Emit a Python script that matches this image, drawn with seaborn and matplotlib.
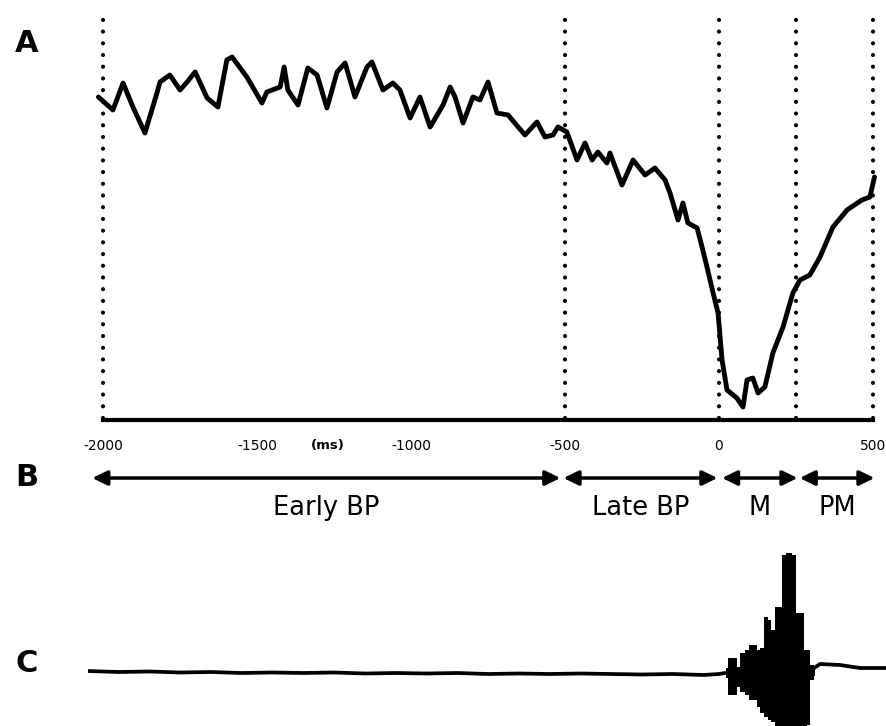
import numpy as np
import pandas as pd
import matplotlib
matplotlib.use("Agg")
import matplotlib.pyplot as plt
import seaborn as sns

# ---------------- data ----------------
# Panel A: averaged EEG (Bereitschaftspotential), time in ms, amplitude (arbitrary units)
erp_t = [-2015, -1968, -1935, -1903, -1864, -1825, -1815, -1783, -1750, -1727,
         -1701, -1662, -1627, -1598, -1581, -1533, -1484, -1468, -1425, -1412,
         -1400, -1367, -1335, -1305, -1273, -1240, -1214, -1182, -1143, -1127,
         -1091, -1059, -1036, -1003, -971, -938, -896, -873, -857, -831,
         -799, -776, -750, -721, -685, -630, -591, -565, -539, -523,
         -494, -461, -435, -412, -393, -364, -354, -315, -279, -240,
         -208, -175, -159, -133, -117, -101, -71, -55, -39, -19,
         -3, 10, 26, 58, 78, 91, 110, 127, 149, 175,
         208, 240, 263, 295, 328, 370, 416, 464, 490, 505]
erp_amp = [0.15, -0.5, 0.85, -0.35, -1.65, 0.35, 0.9, 1.25, 0.5, 0.9,
           1.4, 0.1, -0.35, 2.0, 2.15, 1.15, -0.15, 0.4, 0.65, 1.65,
           0.5, -0.25, 1.6, 1.25, -0.4, 1.4, 1.85, 0.15, 1.65, 1.9,
           0.5, 0.85, 0.5, -0.9, 0.15, -1.35, -0.25, 0.65, 0.15, -1.15,
           0.15, 0.0, 0.9, -0.65, -0.75, -1.75, -1.1, -1.85, -1.75, -1.35,
           -1.6, -3.0, -2.15, -3.0, -2.6, -3.15, -2.65, -4.25, -3.0, -3.75,
           -3.4, -4.0, -4.65, -6.0, -5.15, -6.15, -6.4, -7.35, -8.35, -9.65,
           -10.65, -13.0, -14.5, -14.9, -15.35, -14.0, -13.9, -14.65, -14.35, -12.65,
           -11.35, -9.65, -9.0, -8.75, -7.85, -6.35, -5.5, -5.0, -4.85, -3.85]

# phase boundaries (dotted lines) and x ticks
phase_lines = [-2000, -500, 0, 250, 500]
tick_pos = [-2000, -1500, -1000, -500, 0, 500]
tick_lab = ["-2000", "-1500", "-1000", "-500", "0", "500"]

# Panel B: phases
phase_names = ["Early BP", "Late BP", "M", "PM"]
phase_start = [-2035, -505, 10, 262]
phase_end = [-515, -5, 255, 505]

# Panel C: EMG baseline trace
emg_t = [-2050, -1950, -1850, -1750, -1650, -1550, -1450, -1350, -1250, -1150,
         -1050, -950, -850, -750, -650, -550, -450, -350, -250, -150,
         -50, 0, 20, 100, 200, 300, 328, 393, 458, 542]
emg_v = [0.02, 0.01, 0.015, 0.005, 0.01, 0.0, 0.005, 0.0, 0.005, -0.005,
         0.0, -0.005, 0.0, -0.01, -0.005, -0.01, -0.005, -0.01, -0.015, -0.01,
         -0.02, -0.01, 0.0, 0.0, 0.0, 0.03, 0.09, 0.08, 0.05, 0.05]
# EMG burst envelope
burst_t = [23, 36, 52, 62, 75, 91, 104, 117, 127, 140, 153, 166,
           175, 188, 201, 211, 227, 244, 257, 270, 282, 292, 302, 312]
burst_hi = [0.05, 0.15, 0.15, 0.06, 0.20, 0.23, 0.28, 0.28, 0.23, 0.25, 0.56, 0.53,
            0.43, 0.66, 0.66, 1.18, 1.20, 1.18, 0.60, 0.60, 0.23, 0.23, 0.08, 0.05]
burst_lo = [-0.05, -0.22, -0.22, -0.14, -0.19, -0.22, -0.27, -0.27, -0.34, -0.40, -0.44, -0.47,
            -0.49, -0.57, -0.57, -0.57, -0.57, -0.57, -0.57, -0.57, -0.57, -0.52, -0.07, -0.03]

# ---------------- figure ----------------
sns.set_theme(style="white")
plt.rcParams["font.family"] = ["DejaVu Sans"]
plt.rcParams["text.color"] = "black"
plt.rcParams["xtick.color"] = "black"

W, H = 886, 726
fig = plt.figure(figsize=(W / 100, H / 100), dpi=100)
fig.patch.set_facecolor("white")


def px_axes(x0, y0, x1, y1):
    return fig.add_axes([x0 / W, 1 - y1 / H, (x1 - x0) / W, (y1 - y0) / H])


XL, XR = 87.65, 885.9
XLIM = (-2050, 542)

# ---- Panel A ----
ax_a = px_axes(XL, 10, XR, 420)
erp_df = pd.DataFrame({"t": erp_t, "amp": erp_amp})
sns.lineplot(data=erp_df, x="t", y="amp", ax=ax_a, color="black", lw=3.5,
             estimator=None, sort=False)
for xv in phase_lines:
    ax_a.plot([xv, xv], [-15.9, 4.25], color="black", lw=3,
              linestyle=(0, (0.01, 2.8)), dash_capstyle="round", zorder=1)
ax_a.set_xlim(*XLIM)
ax_a.set_ylim(-16, 4.5)
sns.despine(ax=ax_a, left=True)
ax_a.spines["bottom"].set_bounds(-2000, 500)
ax_a.spines["bottom"].set_linewidth(3)
ax_a.spines["bottom"].set_color("black")
ax_a.set_xticks(tick_pos)
ax_a.set_xticklabels(tick_lab)
ax_a.set_yticks([])
ax_a.tick_params(axis="x", direction="out", length=3.5, width=2.5,
                 color="black", labelsize=10, pad=10, labelcolor="black")
ax_a.set_xlabel("")
ax_a.set_ylabel("")
ax_a.patch.set_alpha(0)
ax_a.text(-1270, -17.3, "(ms)", ha="center", va="center", fontsize=9.5,
          fontweight="bold", color="black", clip_on=False)

# ---- Panel B ----
ax_b = px_axes(XL, 455, XR, 530)
ax_b.set_xlim(*XLIM)
ax_b.set_ylim(0, 1)
ax_b.axis("off")
for s, e, lab in zip(phase_start, phase_end, phase_names):
    ax_b.annotate("", xy=(e, 0.693), xytext=(s, 0.693),
                  arrowprops=dict(arrowstyle="<|-|>,head_length=0.45,head_width=0.22",
                                  mutation_scale=20, lw=2.5, color="black",
                                  shrinkA=0, shrinkB=0))
    ax_b.text((s + e) / 2, 0.2, lab, ha="center", va="baseline", fontsize=18.5,
              color="black")

# ---- Panel C ----
ax_c = px_axes(XL, 540, XR, 726)
ax_c.set_xlim(*XLIM)
ax_c.set_ylim(-0.53, 1.33)
ax_c.axis("off")
sns.lineplot(x=emg_t, y=emg_v, ax=ax_c, color="black", lw=2.7,
             estimator=None, sort=False)
ax_c.fill_between(burst_t, burst_lo, burst_hi, step="mid", color="black", lw=0)

# ---- panel letters ----
for lab, yc in [("A", 43), ("B", 478), ("C", 664)]:
    fig.text(27 / W, 1 - yc / H, lab, ha="center", va="center",
             fontsize=22, fontweight="bold", color="black")

fig.savefig("out.png", dpi=100, facecolor="white")
